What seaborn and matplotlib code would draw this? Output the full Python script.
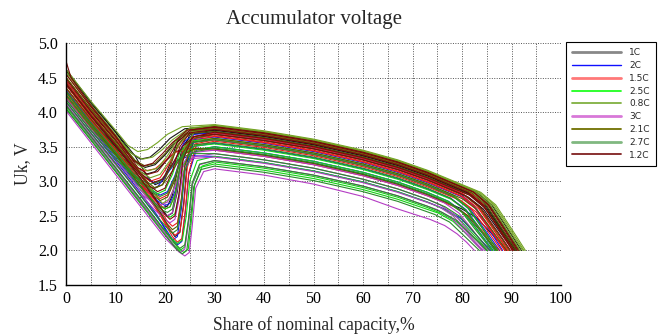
import matplotlib
matplotlib.use("Agg")
import matplotlib.pyplot as plt
from matplotlib.lines import Line2D
import seaborn as sns
import pandas as pd

# ---------------- data ----------------
categories = ["1C", "2C", "1.5C", "2.5C", "0.8C", "3C", "2.1C", "2.7C", "1.2C"]

c08_x = [
    [0, 5, 10, 12.5, 14.5, 16.5, 18.5, 20.5, 23.5, 30, 40, 50, 60, 67, 73, 83.8, 86.8, 89.3, 91.2, 92.8],
    [0, 5, 10, 13.5, 15.5, 17.5, 19.5, 21.5, 24.5, 30, 40, 50, 60, 67, 73, 83.3, 86.3, 88.8, 90.7, 92.3],
    [0, 5, 10, 14, 18, 19.5, 21, 22.5, 24, 26, 30, 40, 50, 60, 67, 73, 82.8, 85.8, 88.3, 90.2, 91.8],
    [0, 5, 10, 15, 17, 19, 21, 23, 25.5, 30, 40, 50, 60, 67, 73, 82.5, 85.5, 88, 89.9, 91.5],
    [0, 5, 10, 14.5, 16.5, 18.5, 20.5, 22.5, 25, 30, 40, 50, 60, 67, 73, 83.5, 86.5, 89, 90.9, 92.5],
]
c08_y = [
    [4.62, 4.16, 3.74, 3.52, 3.43, 3.46, 3.56, 3.68, 3.79, 3.82, 3.73, 3.61, 3.45, 3.31, 3.16, 2.84, 2.66, 2.39, 2.18, 2.0],
    [4.55, 4.08, 3.66, 3.39, 3.32, 3.35, 3.46, 3.6, 3.75, 3.8, 3.71, 3.59, 3.43, 3.29, 3.14, 2.83, 2.65, 2.38, 2.17, 2.0],
    [4.5, 4.03, 3.6, 3.22, 2.8, 2.68, 2.75, 3.05, 3.5, 3.72, 3.78, 3.69, 3.57, 3.41, 3.27, 3.12, 2.83, 2.65, 2.38, 2.17, 2.0],
    [4.4, 3.96, 3.56, 3.14, 3.05, 3.1, 3.3, 3.55, 3.72, 3.76, 3.67, 3.55, 3.39, 3.25, 3.10, 2.82, 2.64, 2.38, 2.17, 2.0],
    [4.58, 4.11, 3.68, 3.24, 3.15, 3.19, 3.37, 3.6, 3.77, 3.81, 3.72, 3.60, 3.44, 3.30, 3.15, 2.84, 2.66, 2.39, 2.18, 2.0],
]

c1_x = [
    [0, 5, 10, 13, 15, 17, 19, 21, 24, 30, 40, 50, 60, 67, 73, 82.6, 85.6, 88.1, 90, 91.6],
    [0, 5, 10, 14, 16, 18, 20, 22, 25, 30, 40, 50, 60, 67, 73, 81.6, 84.6, 87.1, 89, 90.6],
    [0, 5, 10, 14, 16.5, 18, 19.5, 21, 22.5, 24.5, 30, 40, 50, 60, 67, 73, 83, 86, 88.5, 90.4, 92],
    [0, 5, 10, 15, 17.5, 19.5, 20.5, 21.5, 22.5, 23.3, 25, 30, 40, 50, 60, 67, 73, 82, 85, 87.5, 89.4, 91],
    [0, 5, 10, 14, 16, 18, 20, 22, 24, 30, 40, 50, 60, 67, 73, 80, 83, 85.5, 87.4, 89],
    [0, 5, 10, 15, 19, 21, 22, 23, 23.8, 24.5, 26, 30, 40, 50, 60, 67, 73, 81.3, 84.3, 86.8, 88.7, 90.3],
    [0, 5, 10, 15, 18, 19.5, 20.5, 21.5, 22.5, 23.5, 25.5, 30, 40, 50, 60, 67, 73, 81.8, 84.8, 87.3, 89.2, 90.8],
]
c1_y = [
    [4.6, 4.13, 3.71, 3.42, 3.32, 3.35, 3.47, 3.62, 3.76, 3.79, 3.70, 3.58, 3.42, 3.28, 3.13, 2.84, 2.66, 2.39, 2.18, 2.0],
    [4.45, 4.0, 3.6, 3.28, 3.2, 3.24, 3.38, 3.55, 3.71, 3.74, 3.65, 3.53, 3.37, 3.23, 3.08, 2.82, 2.64, 2.38, 2.17, 2.0],
    [4.62, 4.15, 3.72, 3.36, 3.06, 2.95, 3.0, 3.25, 3.58, 3.76, 3.8, 3.71, 3.59, 3.43, 3.29, 3.14, 2.84, 2.66, 2.39, 2.18, 2.0],
    [4.5, 4.02, 3.58, 3.1, 2.82, 2.58, 2.5, 2.54, 2.85, 3.35, 3.68, 3.74, 3.65, 3.53, 3.37, 3.23, 3.08, 2.81, 2.63, 2.37, 2.17, 2.0],
    [4.35, 3.9, 3.5, 3.18, 3.1, 3.14, 3.28, 3.42, 3.48, 3.47, 3.38, 3.26, 3.10, 2.96, 2.81, 2.60, 2.47, 2.28, 2.13, 2.0],
    [4.3, 3.83, 3.4, 2.94, 2.56, 2.3, 2.2, 2.26, 2.7, 3.3, 3.62, 3.68, 3.59, 3.47, 3.31, 3.17, 3.02, 2.77, 2.60, 2.35, 2.16, 2.0],
    [4.4, 3.94, 3.51, 3.05, 2.74, 2.62, 2.64, 2.8, 3.15, 3.5, 3.68, 3.72, 3.63, 3.51, 3.35, 3.21, 3.06, 2.80, 2.62, 2.37, 2.17, 2.0],
]

c12_x = [
    [0, 5, 10, 14.5, 16.5, 18.5, 20.5, 22.5, 25, 30, 40, 50, 60, 67, 73, 82.2, 85.2, 87.7, 89.6, 91.2],
    [0, 5, 10, 14, 17, 18.5, 20, 21.5, 23, 25, 30, 40, 50, 60, 67, 73, 81.2, 84.2, 86.7, 88.6, 90.2],
    [0, 5, 10, 15, 18, 20, 21, 22, 22.8, 23.6, 25.5, 30, 40, 50, 60, 67, 73, 81.5, 84.5, 87, 88.9, 90.5],
    [0, 1, 5, 10, 13.5, 15.5, 17.5, 19.5, 21.5, 24.5, 30, 40, 50, 60, 67, 73, 82.4, 85.4, 87.9, 89.8, 91.4],
    [0, 5, 10, 15, 17.5, 19.5, 21.5, 23.5, 26, 30, 40, 50, 60, 67, 73, 80.8, 83.8, 86.3, 88.2, 89.8],
]
c12_y = [
    [4.55, 4.08, 3.65, 3.2, 3.1, 3.14, 3.32, 3.56, 3.74, 3.79, 3.70, 3.58, 3.42, 3.28, 3.13, 2.85, 2.66, 2.39, 2.18, 2.0],
    [4.4, 3.95, 3.53, 3.17, 2.93, 2.85, 2.9, 3.15, 3.5, 3.7, 3.75, 3.66, 3.54, 3.38, 3.24, 3.09, 2.84, 2.66, 2.39, 2.18, 2.0],
    [4.42, 3.95, 3.52, 3.05, 2.74, 2.52, 2.45, 2.5, 2.8, 3.3, 3.64, 3.71, 3.62, 3.50, 3.34, 3.20, 3.05, 2.80, 2.62, 2.37, 2.17, 2.0],
    [4.74, 4.5, 4.1, 3.66, 3.31, 3.22, 3.26, 3.4, 3.56, 3.74, 3.78, 3.69, 3.57, 3.41, 3.27, 3.12, 2.84, 2.66, 2.39, 2.18, 2.0],
    [4.48, 4.02, 3.6, 3.12, 2.98, 3.03, 3.25, 3.5, 3.65, 3.68, 3.59, 3.47, 3.31, 3.17, 3.02, 2.79, 2.62, 2.36, 2.17, 2.0],
]

c15_x = [
    [0, 5, 10, 15, 17, 19, 21, 23, 25.5, 30, 40, 50, 60, 67, 73, 81.2, 84.2, 86.7, 88.6, 90.2],
    [0, 5, 10, 14, 17.5, 19, 20.5, 22, 23.5, 25.5, 30, 40, 50, 60, 67, 73, 80.2, 83.2, 85.7, 87.6, 89.2],
    [0, 5, 10, 15, 18, 20, 21, 22, 23, 24, 26, 30, 40, 50, 60, 67, 73, 79.6, 82.6, 85.1, 87, 88.6],
    [0, 5, 10, 15, 18.5, 20.5, 21.5, 22.5, 23.3, 24, 25.5, 30, 40, 50, 60, 67, 73, 80.4, 83.4, 85.9, 87.8, 89.4],
    [0, 5, 10, 15, 19, 21, 22, 23, 23.8, 24.5, 26, 30, 40, 50, 60, 67, 73, 79, 82, 84.5, 86.4, 88],
    [0, 5, 10, 14, 16, 18, 20, 22, 25, 30, 40, 50, 60, 67, 73, 78.5, 81.5, 84, 85.9, 87.5],
    [0, 5, 10, 15, 19.5, 21.5, 22.5, 23.4, 24.1, 24.8, 26.3, 30, 40, 50, 60, 67, 73, 79.8, 82.8, 85.3, 87.2, 88.8],
]
c15_y = [
    [4.5, 4.04, 3.62, 3.1, 3.0, 3.05, 3.27, 3.55, 3.73, 3.77, 3.68, 3.56, 3.40, 3.26, 3.11, 2.86, 2.67, 2.40, 2.18, 2.0],
    [4.45, 3.99, 3.56, 3.2, 2.84, 2.75, 2.8, 3.05, 3.42, 3.64, 3.7, 3.61, 3.49, 3.33, 3.19, 3.04, 2.82, 2.64, 2.38, 2.17, 2.0],
    [4.35, 3.89, 3.46, 3.0, 2.72, 2.6, 2.63, 2.8, 3.15, 3.45, 3.62, 3.66, 3.57, 3.45, 3.29, 3.15, 3.00, 2.80, 2.62, 2.37, 2.17, 2.0],
    [4.35, 3.88, 3.44, 2.98, 2.64, 2.42, 2.35, 2.4, 2.75, 3.25, 3.58, 3.65, 3.56, 3.44, 3.28, 3.14, 2.99, 2.77, 2.60, 2.35, 2.16, 2.0],
    [4.28, 3.82, 3.38, 2.92, 2.52, 2.3, 2.22, 2.27, 2.65, 3.2, 3.54, 3.6, 3.51, 3.39, 3.23, 3.09, 2.94, 2.76, 2.59, 2.35, 2.16, 2.0],
    [4.22, 3.78, 3.38, 3.2, 3.15, 3.18, 3.3, 3.42, 3.46, 3.45, 3.36, 3.24, 3.08, 2.94, 2.79, 2.63, 2.49, 2.29, 2.13, 2.0],
    [4.4, 3.92, 3.46, 2.98, 2.45, 2.2, 2.12, 2.17, 2.58, 3.12, 3.52, 3.58, 3.49, 3.37, 3.21, 3.07, 2.92, 2.72, 2.56, 2.33, 2.15, 2.0],
]

c2_x = [
    [0, 5, 10, 15, 18, 20, 22, 24, 26, 30, 40, 50, 60, 67, 73, 79.2, 82.2, 84.7, 86.6, 88.2],
    [0, 5, 10, 15, 18, 20, 21, 22, 23, 24, 26, 30, 40, 50, 60, 67, 73, 78.6, 81.6, 84.1, 86, 87.6],
    [0, 5, 10, 15, 18.5, 20.5, 21.5, 22.5, 23.3, 24, 25.5, 30, 40, 50, 60, 67, 73, 77.8, 80.8, 83.3, 85.2, 86.8],
    [0, 5, 10, 15, 19.5, 21.5, 22.5, 23.4, 24.1, 24.8, 26.3, 30, 40, 50, 60, 67, 73, 77.3, 80.3, 82.8, 84.7, 86.3],
    [0, 5, 10, 14.5, 16.5, 18.5, 20.5, 22.5, 25, 30, 40, 50, 60, 67, 73, 76.8, 79.8, 82.3, 84.2, 85.8],
    [0, 5, 10, 15, 17.5, 19, 20.5, 22, 23.5, 25.5, 30, 40, 50, 60, 67, 73, 79.8, 82.8, 85.3, 87.2, 88.8],
]
c2_y = [
    [4.4, 3.95, 3.53, 3.1, 2.97, 3.05, 3.3, 3.58, 3.68, 3.7, 3.61, 3.49, 3.33, 3.19, 3.04, 2.85, 2.66, 2.39, 2.18, 2.0],
    [4.3, 3.85, 3.43, 2.98, 2.74, 2.65, 2.68, 2.85, 3.18, 3.45, 3.57, 3.6, 3.51, 3.39, 3.23, 3.09, 2.94, 2.77, 2.60, 2.35, 2.16, 2.0],
    [4.2, 3.74, 3.3, 2.84, 2.5, 2.24, 2.15, 2.2, 2.6, 3.15, 3.5, 3.55, 3.46, 3.34, 3.18, 3.04, 2.89, 2.75, 2.59, 2.35, 2.16, 2.0],
    [4.15, 3.7, 3.26, 2.8, 2.38, 2.16, 2.08, 2.13, 2.55, 3.1, 3.45, 3.5, 3.41, 3.29, 3.13, 2.99, 2.84, 2.71, 2.55, 2.33, 2.15, 2.0],
    [4.25, 3.78, 3.34, 2.95, 2.86, 2.92, 3.12, 3.3, 3.37, 3.36, 3.27, 3.15, 2.99, 2.85, 2.70, 2.59, 2.46, 2.27, 2.12, 2.0],
    [4.32, 3.87, 3.45, 3.0, 2.86, 2.8, 2.85, 3.08, 3.42, 3.6, 3.64, 3.55, 3.43, 3.27, 3.13, 2.98, 2.78, 2.61, 2.36, 2.16, 2.0],
]

c21_x = [
    [0, 5, 10, 14, 16, 18, 20, 22, 25, 30, 40, 50, 60, 67, 73, 82, 85, 87.5, 89.4, 91],
    [0, 5, 10, 14, 17.5, 19, 20.5, 22, 23.5, 25.5, 30, 40, 50, 60, 67, 73, 80.6, 83.6, 86.1, 88, 89.6],
    [0, 5, 10, 15, 18.5, 20.5, 21.5, 22.5, 23.3, 24, 25.5, 30, 40, 50, 60, 67, 73, 80, 83, 85.5, 87.4, 89],
    [0, 5, 10, 15, 17.5, 19.5, 21.5, 23.5, 26, 30, 40, 50, 60, 67, 73, 78, 81, 83.5, 85.4, 87],
    [0, 5, 10, 14, 16.5, 18, 19.5, 21, 22.5, 24.5, 30, 40, 50, 60, 67, 73, 81.6, 84.6, 87.1, 89, 90.6],
]
c21_y = [
    [4.5, 4.05, 3.64, 3.3, 3.22, 3.26, 3.4, 3.58, 3.73, 3.76, 3.67, 3.55, 3.39, 3.25, 3.10, 2.83, 2.65, 2.38, 2.17, 2.0],
    [4.35, 3.9, 3.48, 3.12, 2.8, 2.72, 2.77, 3.02, 3.4, 3.62, 3.68, 3.59, 3.47, 3.31, 3.17, 3.02, 2.79, 2.62, 2.36, 2.17, 2.0],
    [4.3, 3.84, 3.4, 2.94, 2.6, 2.38, 2.3, 2.35, 2.72, 3.22, 3.56, 3.62, 3.53, 3.41, 3.25, 3.11, 2.96, 2.75, 2.59, 2.35, 2.16, 2.0],
    [4.25, 3.8, 3.38, 2.98, 2.9, 2.95, 3.15, 3.38, 3.47, 3.47, 3.38, 3.26, 3.10, 2.96, 2.81, 2.66, 2.51, 2.30, 2.14, 2.0],
    [4.42, 3.97, 3.55, 3.2, 2.99, 2.9, 2.95, 3.2, 3.52, 3.69, 3.72, 3.63, 3.51, 3.35, 3.21, 3.06, 2.80, 2.62, 2.37, 2.17, 2.0],
]

c25_x = [
    [0, 5, 10, 14, 17, 18.5, 20, 21.5, 23, 25, 30, 40, 50, 60, 67, 73, 78.2, 81.2, 83.7, 85.6, 87.2],
    [0, 5, 10, 15, 18, 20, 21, 22, 22.8, 23.6, 25.5, 30, 40, 50, 60, 67, 73, 77.2, 80.2, 82.7, 84.6, 86.2],
    [0, 5, 10, 15, 19.5, 21.5, 22.5, 23.5, 24.3, 25, 26.5, 30, 40, 50, 60, 67, 73, 76.2, 79.2, 81.7, 83.6, 85.2],
    [0, 5, 10, 15, 20, 22, 23, 24, 24.8, 25.5, 27, 30, 40, 50, 60, 67, 75.2, 78.2, 80.7, 82.6, 84.2],
    [0, 5, 10, 15, 20, 22.5, 23.8, 24.7, 25.3, 26, 27.5, 30, 40, 50, 60, 67, 73, 76, 79, 81.5, 83.4, 85],
    [0, 5, 10, 15, 18, 20, 21, 22, 23, 24, 26, 30, 40, 50, 60, 67, 73, 77.8, 80.8, 83.3, 85.2, 86.8],
]
c25_y = [
    [4.3, 3.84, 3.42, 3.07, 2.9, 2.82, 2.87, 3.1, 3.42, 3.58, 3.62, 3.53, 3.41, 3.25, 3.11, 2.96, 2.80, 2.62, 2.37, 2.17, 2.0],
    [4.2, 3.75, 3.32, 2.88, 2.64, 2.52, 2.48, 2.53, 2.8, 3.22, 3.45, 3.5, 3.41, 3.29, 3.13, 2.99, 2.84, 2.71, 2.55, 2.33, 2.15, 2.0],
    [4.1, 3.65, 3.2, 2.74, 2.33, 2.16, 2.1, 2.15, 2.5, 3.0, 3.3, 3.36, 3.27, 3.15, 2.99, 2.85, 2.70, 2.60, 2.47, 2.28, 2.13, 2.0],
    [4.05, 3.6, 3.15, 2.7, 2.24, 2.06, 2.0, 2.05, 2.45, 2.95, 3.2, 3.25, 3.16, 3.04, 2.88, 2.74, 2.54, 2.42, 2.25, 2.11, 2.0],
    [4.08, 3.63, 3.18, 2.73, 2.28, 2.05, 1.97, 2.02, 2.4, 2.95, 3.22, 3.28, 3.19, 3.07, 2.91, 2.77, 2.62, 2.53, 2.41, 2.24, 2.11, 2.0],
    [4.25, 3.8, 3.38, 2.93, 2.68, 2.6, 2.63, 2.8, 3.12, 3.4, 3.51, 3.54, 3.45, 3.33, 3.17, 3.03, 2.88, 2.74, 2.58, 2.34, 2.16, 2.0],
]

c27_x = [
    [0, 5, 10, 15, 18, 19.5, 20.5, 21.5, 22.3, 23.2, 25, 30, 40, 50, 60, 67, 73, 77.6, 80.6, 83.1, 85, 86.6],
    [0, 5, 10, 15, 18.5, 20.5, 21.5, 22.5, 23.3, 24, 25.5, 30, 40, 50, 60, 67, 73, 77, 80, 82.5, 84.4, 86],
    [0, 5, 10, 15, 20, 22, 23, 24, 24.8, 25.5, 27, 30, 40, 50, 60, 67, 73, 76, 79, 81.5, 83.4, 85],
    [0, 5, 10, 15, 20, 22.3, 23.5, 24.4, 25.1, 25.8, 27.3, 30, 40, 50, 60, 67, 74.5, 77.5, 80, 81.9, 83.5],
    [0, 5, 10, 15, 17, 19, 21, 23, 25.5, 30, 40, 50, 60, 67, 73, 76.6, 79.6, 82.1, 84, 85.6],
    [0, 5, 10, 15, 17.5, 19, 20.5, 22, 23.5, 25.5, 30, 40, 50, 60, 67, 73, 78.2, 81.2, 83.7, 85.6, 87.2],
]
c27_y = [
    [4.25, 3.8, 3.37, 2.92, 2.68, 2.58, 2.55, 2.6, 2.88, 3.3, 3.52, 3.56, 3.47, 3.35, 3.19, 3.05, 2.90, 2.76, 2.59, 2.35, 2.16, 2.0],
    [4.15, 3.7, 3.26, 2.8, 2.48, 2.32, 2.25, 2.3, 2.68, 3.15, 3.42, 3.48, 3.39, 3.27, 3.11, 2.97, 2.82, 2.70, 2.55, 2.32, 2.15, 2.0],
    [4.1, 3.65, 3.2, 2.75, 2.28, 2.1, 2.03, 2.08, 2.48, 2.98, 3.25, 3.3, 3.21, 3.09, 2.93, 2.79, 2.64, 2.55, 2.43, 2.25, 2.12, 2.0],
    [4.05, 3.6, 3.14, 2.68, 2.22, 2.02, 1.95, 2.0, 2.4, 2.92, 3.17, 3.22, 3.13, 3.01, 2.85, 2.71, 2.52, 2.41, 2.24, 2.11, 2.0],
    [4.18, 3.74, 3.32, 3.02, 2.96, 3.0, 3.18, 3.34, 3.4, 3.4, 3.31, 3.19, 3.03, 2.89, 2.74, 2.63, 2.49, 2.29, 2.13, 2.0],
    [4.3, 3.85, 3.43, 2.98, 2.84, 2.78, 2.83, 3.06, 3.38, 3.56, 3.6, 3.51, 3.39, 3.23, 3.09, 2.94, 2.78, 2.61, 2.36, 2.16, 2.0],
]

c3_x = [
    [0, 5, 10, 15, 18, 20, 21, 22, 22.8, 23.6, 25.5, 30, 40, 50, 60, 67, 73, 75.6, 78.6, 81.1, 83, 84.6],
    [0, 5, 10, 15, 20, 22, 23, 24, 24.8, 25.5, 27, 30, 40, 50, 60, 67, 75, 78, 80.5, 82.4, 84],
    [0, 5, 10, 15, 20, 22.8, 24, 24.9, 25.5, 26.2, 27.8, 30, 40, 50, 60, 67, 73.5, 76.5, 79, 80.9, 82.5],
    [0, 5, 10, 15, 17.5, 19, 20.5, 22, 23.5, 25.5, 30, 40, 50, 60, 67, 75.2, 78.2, 80.7, 82.6, 84.2],
    [0, 5, 10, 15, 18, 19.5, 20.5, 21.5, 22.3, 23.2, 25, 30, 40, 50, 60, 67, 73, 76.4, 79.4, 81.9, 83.8, 85.4],
]
c3_y = [
    [4.15, 3.7, 3.27, 2.82, 2.58, 2.45, 2.4, 2.45, 2.72, 3.12, 3.35, 3.4, 3.31, 3.19, 3.03, 2.89, 2.74, 2.66, 2.51, 2.30, 2.14, 2.0],
    [4.1, 3.64, 3.18, 2.72, 2.25, 2.05, 1.97, 2.02, 2.42, 2.95, 3.24, 3.3, 3.21, 3.09, 2.93, 2.79, 2.59, 2.46, 2.27, 2.12, 2.0],
    [4.02, 3.56, 3.1, 2.64, 2.18, 1.98, 1.92, 1.97, 2.35, 2.9, 3.14, 3.18, 3.09, 2.96, 2.78, 2.6, 2.45, 2.36, 2.24, 2.12, 2.0],
    [4.12, 3.67, 3.24, 2.82, 2.7, 2.65, 2.7, 2.92, 3.2, 3.33, 3.35, 3.26, 3.14, 2.98, 2.84, 2.64, 2.50, 2.29, 2.13, 2.0],
    [4.2, 3.75, 3.32, 2.88, 2.63, 2.54, 2.5, 2.55, 2.82, 3.2, 3.41, 3.45, 3.36, 3.24, 3.08, 2.94, 2.79, 2.69, 2.54, 2.32, 2.14, 2.0],
]

series = {
    "1C": (c1_x, c1_y),
    "2C": (c2_x, c2_y),
    "1.5C": (c15_x, c15_y),
    "2.5C": (c25_x, c25_y),
    "0.8C": (c08_x, c08_y),
    "3C": (c3_x, c3_y),
    "2.1C": (c21_x, c21_y),
    "2.7C": (c27_x, c27_y),
    "1.2C": (c12_x, c12_y),
}

title = "Accumulator voltage"
xlabel = "Share of nominal capacity,%"
ylabel = "Uk, V"

# ---------------- styles ----------------
line_colors = {
    "1C": "#151515", "2C": "#1414e6", "1.5C": "#ea1c1c", "2.5C": "#14d214",
    "0.8C": "#74a424", "3C": "#b43cc4", "2.1C": "#5a5a00", "2.7C": "#2a8c2a",
    "1.2C": "#7a0a0a",
}
legend_colors = {
    "1C": "#888888", "2C": "#1010ff", "1.5C": "#ff7878", "2.5C": "#20ff20",
    "0.8C": "#80b040", "3C": "#d878d8", "2.1C": "#707000", "2.7C": "#80b880",
    "1.2C": "#802020",
}
legend_widths = {
    "1C": 2.0, "2C": 1.0, "1.5C": 2.0, "2.5C": 1.3, "0.8C": 1.3, "3C": 2.0,
    "2.1C": 1.3, "2.7C": 2.0, "1.2C": 1.3,
}

rows = []
uid = 0
for cat in categories:
    xs, ys = series[cat]
    for xl, yl in zip(xs, ys):
        if len(xl) != len(yl):
            raise ValueError(f"length mismatch in {cat} curve {uid}: {len(xl)} vs {len(yl)}")
        for xv, yv in zip(xl, yl):
            rows.append({"x": xv, "y": yv, "cat": cat, "curve": uid})
        uid += 1
df = pd.DataFrame(rows)

sns.set_style("white")
plt.rcParams["font.family"] = ["Liberation Serif", "DejaVu Serif"]

fig = plt.figure(figsize=(6.58, 3.34), dpi=100)
ax = fig.add_axes([66 / 658, 1 - 285 / 334, (561 - 66) / 658, (285 - 43) / 334])

sns.lineplot(data=df, x="x", y="y", hue="cat", units="curve", estimator=None,
             sort=False, palette=line_colors, linewidth=0.8, legend=False, ax=ax)

ax.set_xlim(0, 100)
ax.set_ylim(1.5, 5.0)
ax.set_xticks(range(0, 101, 5))
ax.set_xticklabels([str(v) if v % 10 == 0 else "" for v in range(0, 101, 5)])
ax.set_yticks([1.5, 2.0, 2.5, 3.0, 3.5, 4.0, 4.5, 5.0])
ax.set_yticklabels(["1.5", "2.0", "2.5", "3.0", "3.5", "4.0", "4.5", "5.0"])
ax.grid(True, color="#555555", linestyle=(0, (1, 1.5)), linewidth=0.7)
ax.set_axisbelow(True)
for s in ["top", "right"]:
    ax.spines[s].set_visible(False)
for s in ["left", "bottom"]:
    ax.spines[s].set_color("black")
    ax.spines[s].set_linewidth(1.0)
ax.tick_params(axis="both", direction="in", length=4, width=0.8, colors="black",
               labelsize=11.5, pad=4)
ax.tick_params(axis="y", pad=6)
ax.set_title(title, fontsize=15, pad=14)
ax.set_xlabel(xlabel, fontsize=12.7, labelpad=7)
ax.set_ylabel(ylabel, fontsize=12.7, labelpad=5)

handles = [Line2D([0], [0], color=legend_colors[c], lw=legend_widths[c]) for c in categories]
leg = fig.legend(handles, categories, loc="upper left",
                 bbox_to_anchor=(566 / 658, 1 - 42 / 334), frameon=True,
                 fancybox=False, edgecolor="black", framealpha=1,
                 prop={"family": "DejaVu Sans", "size": 6.5},
                 handlelength=5.4, labelspacing=0.42, borderpad=0.7,
                 handletextpad=0.9, borderaxespad=0)
leg.get_frame().set_linewidth(0.8)

fig.savefig("out.png", dpi=100)
